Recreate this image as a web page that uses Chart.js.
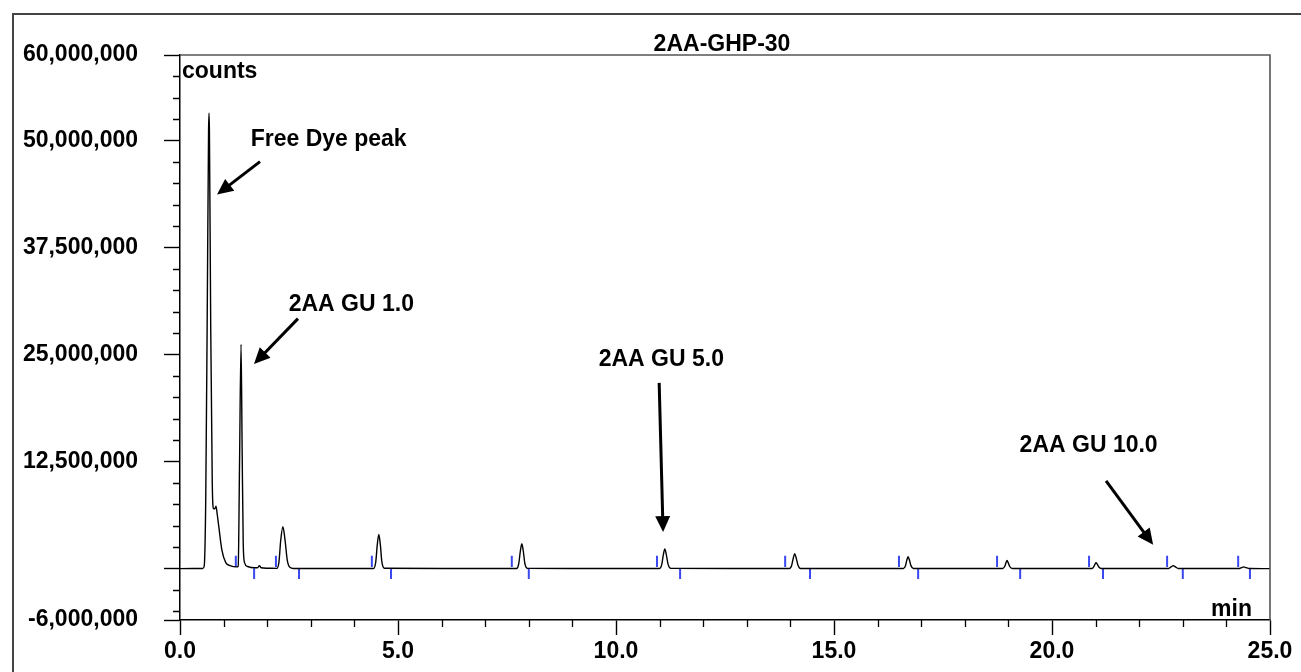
<!DOCTYPE html>
<html><head><meta charset="utf-8">
<script src="https://cdn.jsdelivr.net/npm/chart.js@4.4.0/dist/chart.umd.min.js"></script>
<style>html,body{margin:0;padding:0;background:#fff;} #wrap{position:relative;width:1301px;height:672px;}</style>
</head><body><div id="wrap"><canvas id="c"></canvas></div>
<script>
// ---- data (time in min, signal in counts) ----
const traceTime = [
  0, 0.52, 0.555, 0.59, 0.625, 0.655, 0.665, 0.675, 0.705, 0.74, 0.77, 0.80, 0.825, 0.85, 0.89, 0.96, 1.05, 1.15, 1.30,
  1.335, 1.365, 1.40, 1.425, 1.45, 1.48, 1.55, 1.70, 1.78, 1.82, 1.86, 2.0,
  2.22, 2.27, 2.31, 2.36, 2.41, 2.46, 2.52, 2.6,
  3.5, 4.44, 4.49, 4.525, 4.56, 4.595, 4.63, 4.69,
  6.2, 7.72, 7.77, 7.805, 7.84, 7.875, 7.91, 7.97,
  9.5, 11.0, 11.05, 11.085, 11.12, 11.155, 11.195, 11.26,
  12.6, 13.98, 14.03, 14.065, 14.10, 14.135, 14.175, 14.23,
  15.4, 16.59, 16.64, 16.67, 16.70, 16.73, 16.765, 16.82,
  17.9, 18.87, 18.92, 18.945, 18.97, 18.995, 19.03, 19.09,
  20.0, 20.92, 20.96, 20.985, 21.01, 21.04, 21.075, 21.13,
  21.9, 22.68, 22.73, 22.78, 22.83, 22.9,
  23.6, 24.30, 24.35, 24.40, 24.45, 24.54, 25.0
];
const traceCounts = [
  0, 0.02e6, 0.3e6, 8e6, 30e6, 51e6, 53.2e6, 51e6, 28e6, 10e6, 7.0e6, 7.0e6, 7.3e6, 6.5e6, 4.9e6, 2.2e6, 0.7e6, 0.35e6, 0.2e6,
  0.3e6, 12e6, 26.2e6, 14e6, 3e6, 0.7e6, 0.25e6, 0.1e6, 0.1e6, 0.35e6, 0.1e6, 0.05e6,
  0.03e6, 0.8e6, 3.3e6, 4.9e6, 3.3e6, 1.0e6, 0.15e6, 0.02e6,
  0.02e6, 0.02e6, 0.8e6, 2.8e6, 4.0e6, 2.8e6, 0.8e6, 0.05e6,
  0.02e6, 0.02e6, 0.6e6, 2.0e6, 2.9e6, 2.0e6, 0.6e6, 0.03e6,
  0.02e6, 0.02e6, 0.5e6, 1.6e6, 2.3e6, 1.6e6, 0.5e6, 0.03e6,
  0.02e6, 0.02e6, 0.4e6, 1.2e6, 1.75e6, 1.2e6, 0.4e6, 0.02e6,
  0.02e6, 0.02e6, 0.35e6, 1.0e6, 1.4e6, 1.0e6, 0.35e6, 0.02e6,
  0.02e6, 0.02e6, 0.3e6, 0.7e6, 0.95e6, 0.7e6, 0.25e6, 0.02e6,
  0.02e6, 0.02e6, 0.25e6, 0.5e6, 0.7e6, 0.5e6, 0.2e6, 0.02e6,
  0.02e6, 0.02e6, 0.2e6, 0.35e6, 0.2e6, 0.02e6,
  0.02e6, 0.02e6, 0.12e6, 0.2e6, 0.12e6, 0.02e6, 0
];
const peakStartTimes = [1.28, 2.20, 4.40, 7.61, 10.94, 13.88, 16.49, 18.74, 20.85, 22.64, 24.27];
const peakEndTimes   = [1.70, 2.73, 4.84, 8.00, 11.47, 14.45, 16.93, 19.27, 21.17, 23.00, 24.54];
const startMarkRange = [0.2e6, 1.5e6];
const endMarkRange   = [0.05e6, -1.2e6];

const xMajorTicks = [0, 5, 10, 15, 20, 25];
const xMinorTicks = [1,2,3,4,6,7,8,9,11,12,13,14,16,17,18,19,21,22,23,24];
const yMajorTicks = [60e6, 50e6, 37.5e6, 25e6, 12.5e6, 0, -6e6];
const yMinorTicks = [57.5e6,55e6,52.5e6,47.5e6,45e6,42.5e6,40e6,35e6,32.5e6,30e6,27.5e6,
                     22.5e6,20e6,17.5e6,15e6,10e6,7.5e6,5e6,2.5e6,-2.5e6,-5e6];

const annotLabels      = ['Free Dye peak', '2AA GU 1.0', '2AA GU 5.0', '2AA GU 10.0'];
const annotLabelTime   = [3.41, 3.93, 11.04, 20.84];
const annotLabelCounts = [49.4e6, 30.1e6, 23.7e6, 13.67e6];
const arrowFromTime    = [1.835, 2.706, 10.99, 21.24];
const arrowFromCounts  = [47.55e6, 29.2e6, 21.7e6, 10.26e6];
const arrowToTime      = [0.849, 1.697, 11.08, 22.32];
const arrowToCounts    = [43.69e6, 23.9e6, 4.27e6, 2.78e6];

const titleText = '2AA-GHP-30';
const yUnit = 'counts';
const xUnit = 'min';

// ---- build datasets ----
const tracePts = traceTime.map((t, i) => ({x: t, y: traceCounts[i]}));
const markPts = [];
peakStartTimes.forEach(t => { markPts.push({x:t,y:startMarkRange[0]},{x:t,y:startMarkRange[1]},{x:t,y:null}); });
peakEndTimes.forEach(t => { markPts.push({x:t,y:endMarkRange[0]},{x:t,y:endMarkRange[1]},{x:t,y:null}); });

const FONT = '"Liberation Sans", Arial, Helvetica, sans-serif';
const FS = 23;

const decor = {
  id: 'decor',
  afterDraw(chart) {
    const ctx = chart.ctx, xs = chart.scales.x, ys = chart.scales.y, a = chart.chartArea;
    ctx.save();
    // outer frame
    ctx.strokeStyle = '#444'; ctx.lineWidth = 2;
    ctx.strokeRect(13, 14, 1400, 800);
    // plot top/right frame
    ctx.strokeStyle = '#555'; ctx.lineWidth = 1.6;
    ctx.beginPath();
    ctx.moveTo(a.left, a.top); ctx.lineTo(a.right, a.top); ctx.lineTo(a.right, a.bottom);
    ctx.stroke();
    // minor ticks
    ctx.strokeStyle = '#000'; ctx.lineWidth = 1.3;
    ctx.beginPath();
    xMinorTicks.forEach(v => { const px = Math.round(xs.getPixelForValue(v)) + 0.5; ctx.moveTo(px, a.bottom); ctx.lineTo(px, a.bottom + 7); });
    yMinorTicks.forEach(v => { const py = Math.round(ys.getPixelForValue(v)) + 0.5; ctx.moveTo(a.left, py); ctx.lineTo(a.left - 7, py); });
    ctx.stroke();
    // texts
    ctx.fillStyle = '#000';
    ctx.font = `bold ${FS}px ${FONT}`;
    ctx.textBaseline = 'alphabetic';
    ctx.textAlign = 'center';
    ctx.fillText(titleText, (a.left + a.right) / 2 - 3, a.top - 4);
    ctx.textAlign = 'left';
    ctx.fillText(yUnit, a.left + 2, a.top + 23);
    ctx.textAlign = 'right';
    ctx.fillText(xUnit, a.right - 18, a.bottom - 4);
    ctx.textAlign = 'center';
    annotLabels.forEach((s, i) => {
      ctx.fillText(s, xs.getPixelForValue(annotLabelTime[i]), ys.getPixelForValue(annotLabelCounts[i]));
    });
    // arrows
    ctx.lineWidth = 3; ctx.strokeStyle = '#000';
    annotLabels.forEach((s, i) => {
      const x0 = xs.getPixelForValue(arrowFromTime[i]), y0 = ys.getPixelForValue(arrowFromCounts[i]);
      const x1 = xs.getPixelForValue(arrowToTime[i]), y1 = ys.getPixelForValue(arrowToCounts[i]);
      const dx = x1 - x0, dy = y1 - y0, L = Math.hypot(dx, dy), ux = dx / L, uy = dy / L;
      const hl = 16, hw = 7.5;
      const bx = x1 - ux * hl, by = y1 - uy * hl;
      ctx.beginPath(); ctx.moveTo(x0, y0); ctx.lineTo(bx + ux * 2, by + uy * 2); ctx.stroke();
      ctx.beginPath();
      ctx.moveTo(x1, y1);
      ctx.lineTo(bx - uy * hw, by + ux * hw);
      ctx.lineTo(bx + uy * hw, by - ux * hw);
      ctx.closePath(); ctx.fill();
    });
    ctx.restore();
  }
};

new Chart(document.getElementById('c'), {
  type: 'line',
  data: {
    datasets: [
      { data: markPts, borderColor: '#3a48f0', borderWidth: 2, pointRadius: 0, spanGaps: false, tension: 0, order: 2 },
      { data: tracePts, borderColor: '#000', borderWidth: 1.4, pointRadius: 0, cubicInterpolationMode: 'monotone', order: 1 }
    ]
  },
  options: {
    responsive: true, maintainAspectRatio: false, animation: false,
    layout: { padding: { left: 0, top: 55, right: 31, bottom: 0 } },
    plugins: { legend: { display: false }, tooltip: { enabled: false }, title: { display: false } },
    scales: {
      x: {
        type: 'linear', min: 0, max: 25,
        afterBuildTicks: s => { s.ticks = xMajorTicks.map(v => ({value: v})); },
        afterFit: s => { s.height = 52; s.paddingLeft = 0; s.paddingRight = 0; },
        ticks: { autoSkip: false, maxRotation: 0, padding: 3, color: '#000',
                 font: { family: FONT, size: FS, weight: 'bold' }, callback: v => v.toFixed(1) },
        grid: { display: true, drawOnChartArea: false, drawTicks: true, tickLength: 15, tickColor: '#000', tickWidth: 1.4 },
        border: { display: true, color: '#000', width: 1.5 }
      },
      y: {
        type: 'linear', min: -6e6, max: 60e6,
        afterBuildTicks: s => { s.ticks = yMajorTicks.map(v => ({value: v})); },
        afterFit: s => { s.width = 180; s.paddingTop = 0; s.paddingBottom = 0; },
        ticks: { autoSkip: false, padding: 26, color: '#000',
                 font: { family: FONT, size: FS, weight: 'bold' },
                 callback: v => v === 0 ? '' : v.toLocaleString('en-US') },
        grid: { display: true, drawOnChartArea: false, drawTicks: true, tickLength: 16, tickColor: '#000', tickWidth: 1.4 },
        border: { display: true, color: '#000', width: 1.5 }
      }
    }
  },
  plugins: [decor]
});
</script></body></html>
